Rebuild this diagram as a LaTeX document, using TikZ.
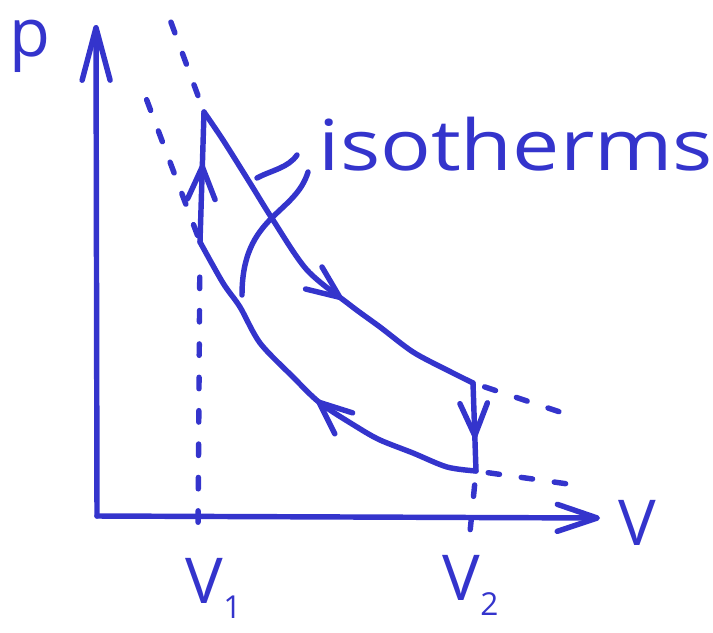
\documentclass[tikz,border=0pt]{standalone}
\usepackage{fontspec}
\setmainfont{Open Sans}
\usepackage{xcolor}
\usetikzlibrary{arrows.meta,decorations.markings}
\definecolor{ink}{RGB}{52,52,204}
\newcommand{\lowidx}[1]{\raisebox{-9pt}{\fontsize{18}{18}\selectfont #1}}

\begin{document}
\begin{tikzpicture}[
  x=0.02cm, y=-0.02cm, color=ink, line width=3.1pt,
  line cap=round, line join=round,
  >={Straight Barb[round, length=6.5mm, width=5.5mm]},
  isodash/.style={dash pattern=on 6.5pt off 12.5pt},
  flow/.style={postaction={decorate}, decoration={markings,
      mark=at position #1 with {\arrow{>}}}},
  lbl/.style={inner sep=0pt, font=\fontsize{36}{36}\selectfont}]
\useasboundingbox (0,0) rectangle (713,632);
% corners of the cycle
\coordinate (A) at (204,112);
\coordinate (B) at (473,383);
\coordinate (C) at (476,471);
\coordinate (D) at (200,242);
% ends of the dashed lines
\coordinate (hotTop) at (165,6);
\coordinate (hotEnd) at (578,418);
\coordinate (coldTop) at (143,90);
\coordinate (coldEnd) at (568,484);
\coordinate (v1Low) at (198,530);
\coordinate (v2Low) at (470,532);
% axes
\coordinate (O) at (97,516);
\coordinate (ptop) at (96,25);
\coordinate (Vend) at (600,518);
\draw[-{Straight Barb[round, length=10.5mm, width=5.6mm]}] (O) -- (ptop);
\draw[-{Straight Barb[round, length=8mm, width=5.4mm]}] (O) -- (Vend);
\node[lbl, anchor=base, font=\fontsize{38}{38}\selectfont] (plbl) at (30,56) {p};
\node[lbl, anchor=base] (Vlbl) at (637,545) {V};
\node[lbl, anchor=base west] (V1lbl) at (183,603) {V\lowidx{1}};
\node[lbl, anchor=base west] (V2lbl) at (440,600) {V\lowidx{2}};
% isotherms, dashed parts
\draw[isodash, shorten <=10pt] (A) -- (hotTop);
\draw[isodash, shorten <=7pt] (B) -- (hotEnd);
\draw[isodash, shorten <=4pt] (D) -- (coldTop);
\draw[isodash, shorten <=7pt] (C) -- (coldEnd);
\draw[isodash, shorten <=20pt] (D) -- (v1Low);
\draw[isodash, shorten <=8pt] (C) -- (v2Low);
% the cycle
\draw[flow=0.6] plot[smooth, tension=0.5] coordinates {(A) (223,140)
  (250,183) (273,220) (307,270) (350,305) (380,327) (413,352) (447,370) (B)};
\draw[flow=0.63] (B) -- (C);
\draw[flow=0.47] plot[smooth, tension=0.5] coordinates {(C) (447,467)
  (413,453) (380,440) (357,427) (320,403) (293,377) (260,343) (240,307)
  (223,283) (D)};
\draw[flow=0.6] (D) -- (A);
% label with leaders
\node[lbl, anchor=base west, font=\fontsize{40}{40}\selectfont] (iso)
  at (316,170) {\scalebox{1.2}[1]{isotherms}};
\coordinate (l1a) at (297,155);
\coordinate (l1b) at (257,178);
\coordinate (l2a) at (308,172);
\coordinate (l2b) at (242,295);
\draw (l1a) .. controls (288,168) and (272,170) .. (l1b);
\draw (l2a) .. controls (295,215) and (242,215) .. (l2b);
\end{tikzpicture}
\end{document}
